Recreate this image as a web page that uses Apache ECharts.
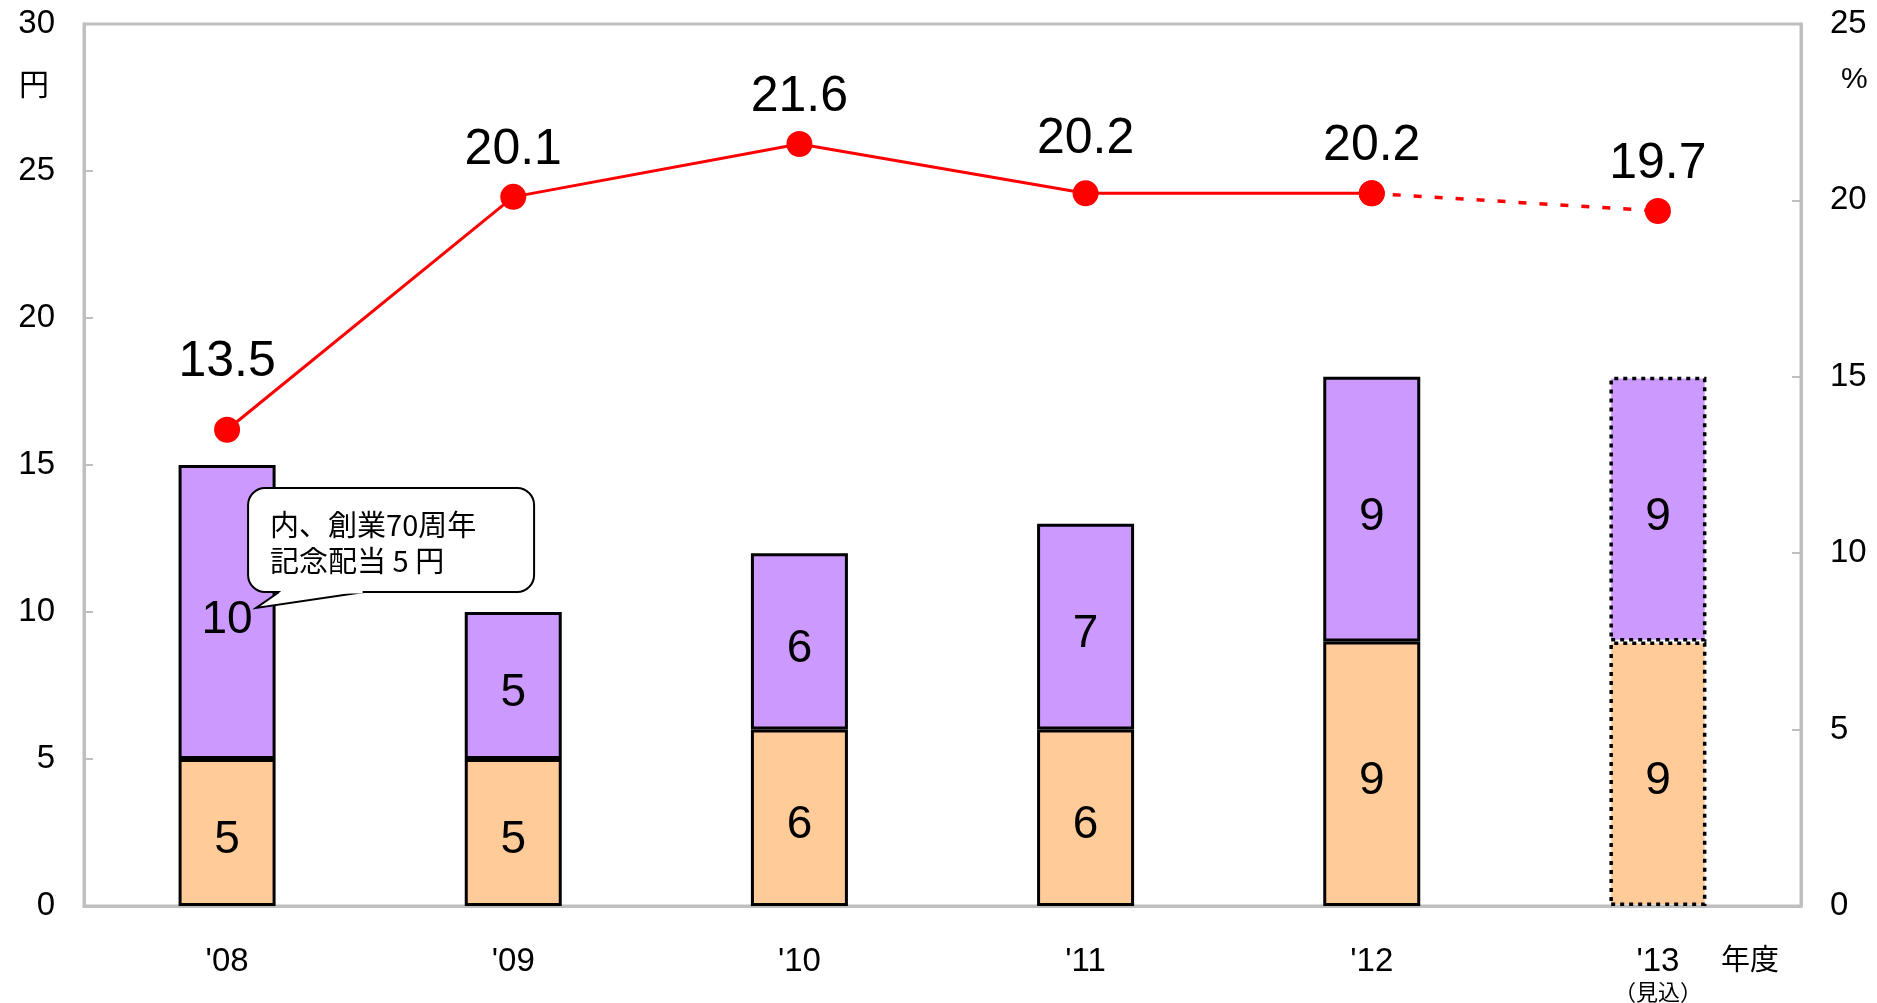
<!DOCTYPE html>
<html>
<head>
<meta charset="utf-8">
<script src="https://cdn.jsdelivr.net/npm/echarts@6/dist/echarts.min.js"></script>
<style>
  html, body { margin: 0; padding: 0; background: #fff; }
  #chart { width: 1877px; height: 1003px; }
</style>
</head>
<body>
<div id="chart"></div>
<script>
// 年度
var years = ["'08", "'09", "'10", "'11", "'12", "'13"];
// 配当（円）
var interimDiv = [5, 5, 6, 6, 9, 9];
var yearEndDiv = [10, 5, 6, 7, 9, 9];
// 配当性向（%）
var payoutRatio = [13.5, 20.1, 21.6, 20.2, 20.2, 19.7];
var forecastIndex = 5; // '13 は見込
var yenTicks = { min: 0, max: 30, interval: 5 };
var pctTicks = { min: 0, max: 25, interval: 5 };

var FONT = "'Liberation Sans', Arial, 'Noto Sans CJK JP', sans-serif";
var JP_FONT = "'Noto Sans CJK JP', 'Liberation Sans', sans-serif";
var AXIS_GRAY = "#BFBFBF";

var chart = echarts.init(document.getElementById("chart"));

function barData(arr) {
  return arr.map(function (v, i) {
    if (i === forecastIndex) {
      return { value: v, itemStyle: { borderType: [4, 5], borderWidth: 3.5 } };
    }
    return v;
  });
}

// 実績は実線、見込は点線
var solidLine = payoutRatio.map(function (v, i) {
  if (i === forecastIndex) return "-";
  if (i === 0) return { value: v, label: { distance: 30 } };
  if (i === 3) return { value: v, label: { distance: 16 } };
  return v;
});
var dashedLine = payoutRatio.map(function (v, i) {
  if (i === forecastIndex) return { value: v, label: { show: true } };
  if (i === forecastIndex - 1) return v;
  return "-";
});

var barLabel = { show: true, position: "inside", fontSize: 46, color: "#000", offset: [0, 8] };

var option = {
  animation: false,
  textStyle: { fontFamily: FONT },
  grid: {
    left: 84,
    right: 76,
    top: 24,
    bottom: 97,
    show: true,
    borderColor: AXIS_GRAY,
    borderWidth: 3
  },
  xAxis: {
    type: "category",
    data: years,
    name: "年度",
    nameLocation: "end",
    nameGap: -80,
    nameTextStyle: {
      fontFamily: JP_FONT,
      fontSize: 29,
      color: "#000",
      verticalAlign: "top",
      padding: [38, 0, 0, 0]
    },
    axisLine: { lineStyle: { color: AXIS_GRAY, width: 3 } },
    axisTick: { inside: true, length: 9, lineStyle: { color: AXIS_GRAY, width: 2 } },
    axisLabel: {
      margin: 39,
      fontSize: 33,
      color: "#000",
      formatter: function (v) {
        if (v === years[forecastIndex]) return "{a|" + v + "}\n{b|（見込）}";
        return v;
      },
      rich: {
        a: { fontSize: 33, lineHeight: 34, color: "#000", fontFamily: FONT },
        b: { fontSize: 22, lineHeight: 26, color: "#000", fontFamily: JP_FONT }
      }
    }
  },
  yAxis: [
    {
      type: "value",
      min: yenTicks.min,
      max: yenTicks.max,
      interval: yenTicks.interval,
      name: "円",
      nameLocation: "end",
      nameGap: -60,
      nameTextStyle: {
        fontFamily: JP_FONT,
        fontSize: 30,
        color: "#000",
        align: "right",
        verticalAlign: "middle",
        padding: [0, 35, 0, 0]
      },
      axisLine: { show: true, lineStyle: { color: AXIS_GRAY, width: 3 } },
      axisTick: { show: true, inside: true, length: 9, lineStyle: { color: AXIS_GRAY, width: 2 } },
      axisLabel: { margin: 29, fontSize: 33, color: "#000" },
      splitLine: { show: false }
    },
    {
      type: "value",
      min: pctTicks.min,
      max: pctTicks.max,
      interval: pctTicks.interval,
      position: "right",
      name: "%",
      nameLocation: "end",
      nameGap: -56,
      nameTextStyle: {
        fontSize: 30,
        color: "#000",
        align: "left",
        verticalAlign: "middle",
        padding: [0, 0, 0, 40]
      },
      axisLine: { show: true, lineStyle: { color: AXIS_GRAY, width: 3 } },
      axisTick: { show: true, inside: true, length: 9, lineStyle: { color: AXIS_GRAY, width: 2 } },
      axisLabel: { margin: 29, fontSize: 33, color: "#000" },
      splitLine: { show: false }
    }
  ],
  series: [
    {
      name: "中間配当",
      type: "bar",
      stack: "div",
      barWidth: 97,
      itemStyle: { color: "#FFCC99", borderColor: "#000", borderWidth: 3 },
      label: barLabel,
      data: barData(interimDiv)
    },
    {
      name: "期末配当",
      type: "bar",
      stack: "div",
      barWidth: 97,
      itemStyle: { color: "#CC99FF", borderColor: "#000", borderWidth: 3 },
      label: barLabel,
      data: barData(yearEndDiv)
    },
    {
      name: "配当性向",
      type: "line",
      yAxisIndex: 1,
      z: 5,
      symbol: "circle",
      symbolSize: 26,
      itemStyle: { color: "#FF0000" },
      lineStyle: { color: "#FF0000", width: 3 },
      label: { show: true, position: "top", distance: 9, fontSize: 50, color: "#000" },
      data: solidLine
    },
    {
      name: "配当性向（見込）",
      type: "line",
      yAxisIndex: 1,
      z: 4,
      symbol: "circle",
      symbolSize: 26,
      itemStyle: { color: "#FF0000" },
      lineStyle: { color: "#FF0000", width: 3.5, type: [8, 13] },
      label: { show: false, position: "top", distance: 9, fontSize: 50, color: "#000" },
      data: dashedLine
    }
  ]
};

chart.setOption(option);

// 吹き出し：'08 の期末配当ラベル「10」を指す
var p = chart.convertToPixel({ xAxisIndex: 0, yAxisIndex: 0 }, [0, interimDiv[0] + yearEndDiv[0] / 2]);
var bx = p[0] + 21, by = p[1] - 124, bw = 286, bh = 104;
var tip = [p[0] + 29, p[1] - 4];
var base1 = [p[0] + 52, by + bh];
var base2 = [p[0] + 137, by + bh];

chart.setOption({
  graphic: [
    {
      type: "rect",
      z: 100,
      shape: { x: bx, y: by, width: bw, height: bh, r: 17 },
      style: { fill: "#fff", stroke: "#000", lineWidth: 2 }
    },
    {
      type: "polygon",
      z: 101,
      shape: { points: [base1, tip, base2] },
      style: { fill: "#fff", stroke: null }
    },
    {
      type: "polyline",
      z: 102,
      shape: { points: [base1, tip, base2] },
      style: { stroke: "#000", lineWidth: 2, fill: null }
    },
    {
      type: "line",
      z: 103,
      shape: { x1: base1[0] + 1.5, y1: by + bh, x2: base2[0] - 1.5, y2: by + bh },
      style: { stroke: "#fff", lineWidth: 3 }
    },
    {
      type: "text",
      z: 104,
      x: bx + 22,
      y: by + 19,
      style: {
        text: "内、創業70周年\n記念配当 5 円",
        fontFamily: JP_FONT,
        fontSize: 29,
        lineHeight: 36,
        fill: "#000"
      }
    }
  ]
});
</script>
</body>
</html>
